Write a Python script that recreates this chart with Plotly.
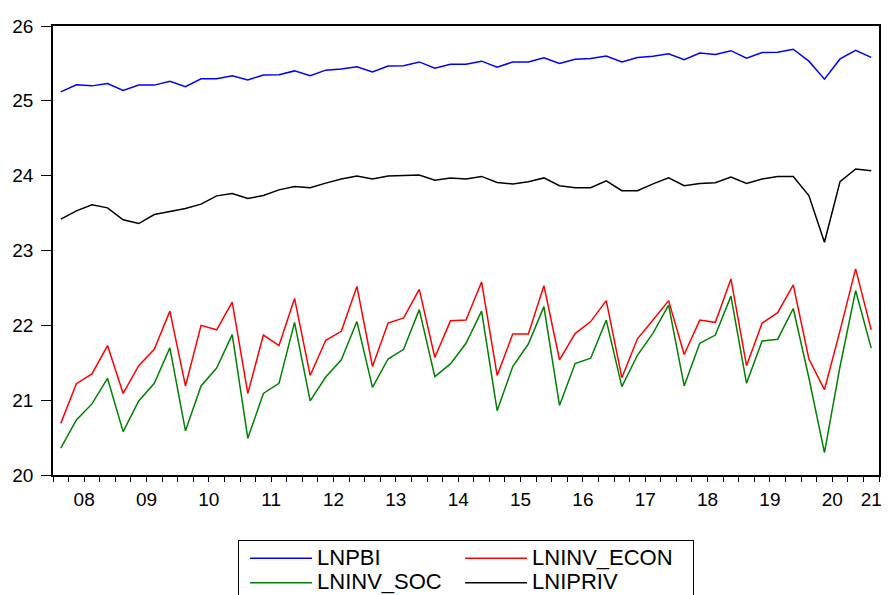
import numpy as np
import plotly.graph_objects as go

# Quarterly observations 2008Q1 .. 2021Q1
quarters = [f"{y}Q{q}" for y in range(2008, 2022) for q in range(1, 5)][:53]

lnpbi = [25.12, 25.215, 25.20, 25.23, 25.14, 25.21, 25.21, 25.26, 25.19, 25.295,
         25.295, 25.335, 25.28, 25.345, 25.35, 25.40, 25.335, 25.41, 25.425, 25.455,
         25.385, 25.465, 25.47, 25.52, 25.435, 25.49, 25.49, 25.53, 25.45, 25.52,
         25.52, 25.575, 25.50, 25.555, 25.565, 25.60, 25.52, 25.58, 25.595, 25.63,
         25.55, 25.64, 25.62, 25.67, 25.57, 25.645, 25.65, 25.69, 25.53, 25.29,
         25.56, 25.675, 25.58]

lninv_econ = [20.69, 21.22, 21.35, 21.73, 21.09, 21.46, 21.68, 22.19, 21.19, 22.00,
              21.94, 22.31, 21.09, 21.87, 21.73, 22.36, 21.33, 21.80, 21.92, 22.52,
              21.45, 22.03, 22.10, 22.48, 21.57, 22.06, 22.07, 22.58, 21.33, 21.885,
              21.885, 22.53, 21.54, 21.89, 22.05, 22.33, 21.30, 21.82, 22.07, 22.33,
              21.61, 22.07, 22.04, 22.62, 21.46, 22.03, 22.17, 22.54, 21.55, 21.14,
              21.93, 22.755, 21.94]

lninv_soc = [20.36, 20.735, 20.95, 21.29, 20.58, 20.99, 21.225, 21.70, 20.59, 21.19,
             21.43, 21.875, 20.49, 21.09, 21.225, 22.04, 20.99, 21.31, 21.54, 22.05,
             21.17, 21.55, 21.68, 22.21, 21.315, 21.485, 21.76, 22.19, 20.86, 21.45,
             21.75, 22.25, 20.93, 21.49, 21.56, 22.07, 21.18, 21.60, 21.895, 22.27,
             21.19, 21.76, 21.87, 22.39, 21.225, 21.79, 21.815, 22.225, 21.30, 20.30,
             21.45, 22.465, 21.695]

lnipriv = [23.42, 23.53, 23.61, 23.57, 23.41, 23.36, 23.48, 23.52, 23.56, 23.62,
           23.73, 23.76, 23.695, 23.735, 23.81, 23.855, 23.84, 23.90, 23.955, 23.995,
           23.955, 23.995, 24.00, 24.01, 23.94, 23.97, 23.955, 23.99, 23.91, 23.89,
           23.92, 23.97, 23.865, 23.84, 23.84, 23.93, 23.80, 23.80, 23.89, 23.97,
           23.865, 23.895, 23.905, 23.98, 23.895, 23.955, 23.99, 23.99, 23.735, 23.11,
           23.92, 24.09, 24.065]

year_labels = ["08", "09", "10", "11", "12", "13", "14", "15", "16", "17", "18", "19", "20", "21"]
y_ticks = [20, 21, 22, 23, 24, 25, 26]

n = len(quarters)
x = np.arange(n)

# tick positions derived from the quarterly index
year_bounds = [i - 0.5 for i in range(0, n + 1, 4)]
quarter_bounds = [i - 0.5 for i in range(0, n + 1)]
label_pos = [4 * k + 1.5 for k in range(len(year_labels) - 1)] + [n - 1]

FONT = "Liberation Sans, Arial, sans-serif"
xr = [-0.5, n - 0.5]

fig = go.Figure()
series = [
    ("LNPBI", lnpbi, "#0000FF", "g1", 131),
    ("LNINV_ECON", lninv_econ, "#FF0000", "g2", 156),
    ("LNINV_SOC", lninv_soc, "#008000", "g1", 131),
    ("LNIPRIV", lnipriv, "#000000", "g2", 156),
]
for name, vals, col, grp, lw in series:
    fig.add_trace(go.Scatter(x=x, y=vals, mode="lines",
                             name="<span style='font-size:22px'>" + name + "</span>",
                             legendgroup=grp, legendwidth=lw,
                             line=dict(color=col, width=1.5), customdata=quarters,
                             hovertemplate="%{customdata}: %{y}<extra>" + name + "</extra>"))

fig.update_layout(
    width=891, height=595,
    margin=dict(l=53, r=12, t=26, b=120, autoexpand=False),
    paper_bgcolor="white", plot_bgcolor="white",
    font=dict(family=FONT, color="black"),
    showlegend=True,
    legend=dict(orientation="h", x=0.224, xanchor="left", y=-0.1448, yanchor="top",
                bordercolor="black", borderwidth=1, bgcolor="white",
                font=dict(size=16.5, family=FONT, color="black"),
                indentation=7, itemwidth=62,
                tracegroupgap=0, itemclick=False),
    xaxis=dict(range=xr, showgrid=False, zeroline=False,
               showline=True, linecolor="black", linewidth=1.5, mirror=True,
               tickmode="array", tickvals=year_bounds, ticktext=[""] * len(year_bounds),
               ticks="outside", ticklen=10, tickwidth=1.2, tickcolor="black",
               minor=dict(tickmode="array", tickvals=quarter_bounds, ticks="outside",
                          ticklen=5, tickwidth=1.2, tickcolor="black", showgrid=False)),
    xaxis2=dict(range=xr, overlaying="x", anchor="y", side="bottom", matches="x",
                showgrid=False, zeroline=False, showline=False,
                tickmode="array", tickvals=label_pos, ticktext=year_labels,
                ticks="outside", ticklen=7, tickcolor="rgba(0,0,0,0)",
                tickfont=dict(size=19, family=FONT, color="black")),
    yaxis=dict(range=[20, 26], showgrid=False, zeroline=False,
               showline=True, linecolor="black", linewidth=1.5, mirror=True,
               tickmode="array", tickvals=y_ticks,
               ticks="outside", ticklen=10, tickwidth=1.2, tickcolor="black",
               ticklabelstandoff=4,
               tickfont=dict(size=19, family=FONT, color="black")),
)
# a transparent helper trace so the label axis is drawn
fig.add_trace(go.Scatter(x=[xr[0], xr[1]], y=[20, 20], xaxis="x2", mode="lines",
                         line=dict(color="rgba(0,0,0,0)"), showlegend=False, hoverinfo="skip"))

fig.write_html("out.html", config={"displayModeBar": False},
               post_script="document.body.style.margin='0px';document.body.style.overflow='hidden';")
